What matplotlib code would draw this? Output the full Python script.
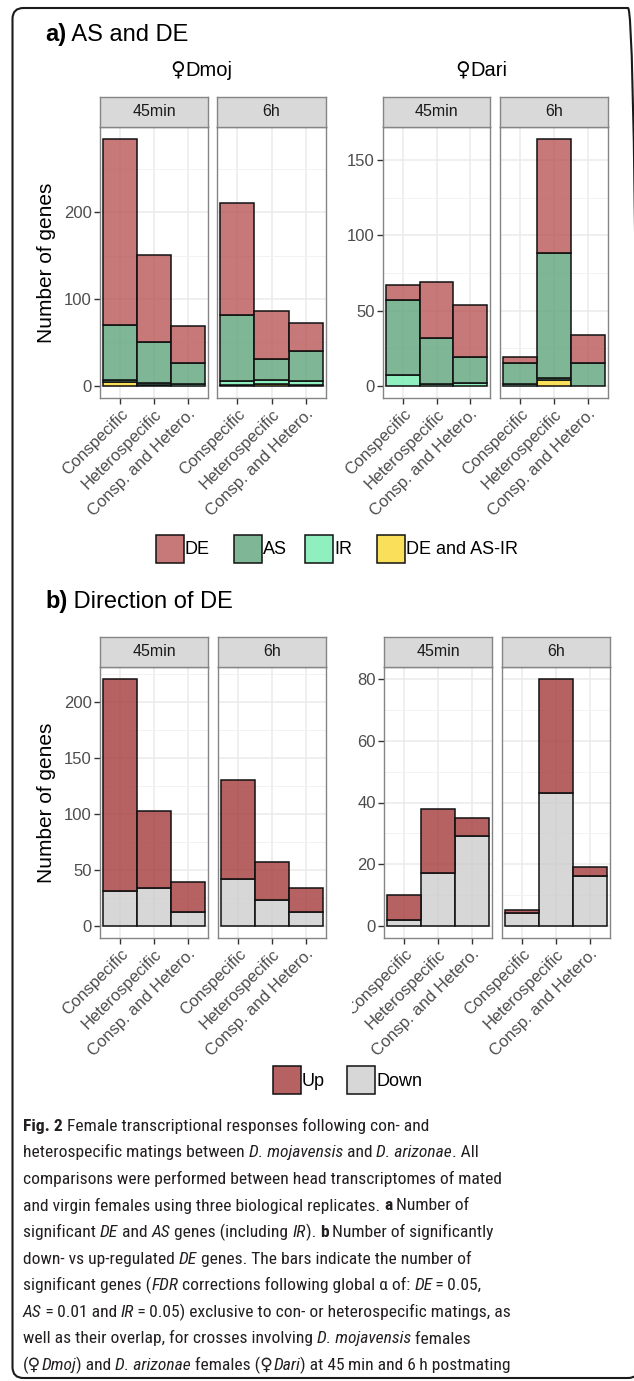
import numpy as np
import matplotlib
matplotlib.use("Agg")
import matplotlib.pyplot as plt
from matplotlib import font_manager
from matplotlib.colors import to_rgba
from matplotlib.patches import Rectangle, FancyBboxPatch
from matplotlib.transforms import Bbox, IdentityTransform

# mating types on the x axis
categories = ["Conspecific", "Heterospecific", "Consp. and Hetero."]

# a) AS and DE -- gene counts per class, stacked bottom -> top
# order inside each list: Conspecific, Heterospecific, Consp. and Hetero.
dmoj_45min_deasir = [4, 1, 0]
dmoj_45min_ir = [2, 2, 2]
dmoj_45min_as = [64, 47, 24]
dmoj_45min_de = [214, 101, 43]

dmoj_6h_deasir = [1, 2, 1]
dmoj_6h_ir = [4, 4, 4]
dmoj_6h_as = [77, 25, 35]
dmoj_6h_de = [129, 55, 32]

dari_45min_deasir = [0, 0, 0]
dari_45min_ir = [7, 1, 2]
dari_45min_as = [50, 31, 17]
dari_45min_de = [10, 37, 35]

dari_6h_deasir = [0, 4, 0]
dari_6h_ir = [1, 1, 0]
dari_6h_as = [14, 83, 15]
dari_6h_de = [4, 76, 19]

# b) Direction of DE
dmoj_45min_down = [31, 34, 12]
dmoj_45min_up = [189, 68, 27]
dmoj_6h_down = [42, 23, 12]
dmoj_6h_up = [88, 34, 22]
dari_45min_down = [2, 17, 29]
dari_45min_up = [8, 21, 6]
dari_6h_down = [4, 43, 16]
dari_6h_up = [1, 37, 3]

class_labels = ["DE", "AS", "IR", "DE and AS-IR"]
class_colors = ["#BA5656", "#5FA57C", "#74ECAE", "#F9D931"]
dir_labels = ["Up", "Down"]
dir_colors = ["#A43B3B", "#CDCDCD"]

W, H = 634, 1381
fig = plt.figure(figsize=(W / 100, H / 100), dpi=100)
fig.patch.set_facecolor("white")

SANS = ["Liberation Sans", "DejaVu Sans"]
plt.rcParams["font.family"] = SANS


def fx(x):
    return x / W


def fy(y):
    return 1 - y / H


def px_axes(x0, y0, x1, y1):
    return fig.add_axes([fx(x0), fy(y1), (x1 - x0) / W, (y1 - y0) / H])


def panel(x0, x1, y0, y1, strip, stacks, colors, ylim, major, minor, first):
    ax = px_axes(x0, y0, x1, y1)
    xs = np.arange(1, 4)
    bottom = np.zeros(3)
    for vals, col in zip(stacks, colors):
        vals = np.asarray(vals, dtype=float)
        keep = vals > 0
        ax.bar(xs[keep], vals[keep], width=1.0, bottom=bottom[keep],
               color=to_rgba(col, 0.8), edgecolor="#111111", linewidth=1.1, zorder=3)
        bottom += vals
    ax.set_xlim(0.4, 3.6)
    ax.set_ylim(*ylim)
    ax.set_xticks(xs)
    ax.set_xticklabels(categories, rotation=45, ha="right", va="top",
                       rotation_mode="anchor")
    ax.set_yticks(major)
    ax.set_yticks(minor, minor=True)
    ax.set_axisbelow(True)
    ax.grid(which="major", color="#EBEBEB", linewidth=1.1)
    ax.grid(which="minor", axis="y", color="#F2F2F2", linewidth=0.7)
    for s in ax.spines.values():
        s.set_color("#858585")
        s.set_linewidth(1.0)
    ax.tick_params(which="major", length=4, width=1, color="#333333",
                   labelsize=12, labelcolor="#4D4D4D", pad=2)
    ax.tick_params(which="minor", length=0)
    if not first:
        ax.tick_params(axis="y", left=False, labelleft=False)
    # facet strip
    sa = px_axes(x0, y0 - 30, x1, y0)
    sa.set_facecolor("#D9D9D9")
    sa.set_xticks([])
    sa.set_yticks([])
    for s in sa.spines.values():
        s.set_color("#858585")
        s.set_linewidth(1.0)
    sa.text(0.5, 0.5, strip, ha="center", va="center", fontsize=11.5,
            color="#1A1A1A", transform=sa.transAxes)
    return ax


# ---- a) AS and DE ----
ya0, ya1 = 127, 398
a_dmoj_lim = (-0.05 * 284, 284 * 1.05)
a_dari_lim = (-0.05 * 164, 164 * 1.05)
panel(100, 208, ya0, ya1, "45min",
      [dmoj_45min_deasir, dmoj_45min_ir, dmoj_45min_as, dmoj_45min_de],
      class_colors[::-1], a_dmoj_lim, [0, 100, 200], [50, 150, 250], True)
panel(217, 326, ya0, ya1, "6h",
      [dmoj_6h_deasir, dmoj_6h_ir, dmoj_6h_as, dmoj_6h_de],
      class_colors[::-1], a_dmoj_lim, [0, 100, 200], [50, 150, 250], False)
panel(383, 490, ya0, ya1, "45min",
      [dari_45min_deasir, dari_45min_ir, dari_45min_as, dari_45min_de],
      class_colors[::-1], a_dari_lim, [0, 50, 100, 150], [25, 75, 125], True)
panel(500, 608, ya0, ya1, "6h",
      [dari_6h_deasir, dari_6h_ir, dari_6h_as, dari_6h_de],
      class_colors[::-1], a_dari_lim, [0, 50, 100, 150], [25, 75, 125], False)

# ---- b) Direction of DE ----
yb0, yb1 = 667, 938
b_dmoj_lim = (-0.05 * 220, 220 * 1.05)
b_dari_lim = (-0.05 * 80, 80 * 1.05)
panel(100, 208, yb0, yb1, "45min", [dmoj_45min_down, dmoj_45min_up],
      dir_colors[::-1], b_dmoj_lim, [0, 50, 100, 150, 200], [25, 75, 125, 175, 225], True)
panel(218, 326, yb0, yb1, "6h", [dmoj_6h_down, dmoj_6h_up],
      dir_colors[::-1], b_dmoj_lim, [0, 50, 100, 150, 200], [25, 75, 125, 175, 225], False)
ax_b3 = panel(384, 492, yb0, yb1, "45min", [dari_45min_down, dari_45min_up],
              dir_colors[::-1], b_dari_lim, [0, 20, 40, 60, 80], [10, 30, 50, 70], True)
panel(502, 610, yb0, yb1, "6h", [dari_6h_down, dari_6h_up],
      dir_colors[::-1], b_dari_lim, [0, 20, 40, 60, 80], [10, 30, 50, 70], False)

# first label of the right-hand group gets cut by its neighbour
lab = ax_b3.get_xticklabels()[0]
lab.set_clip_on(True)
lab.set_clip_box(Bbox.from_extents(352, 0, W, H))

renderer = fig.canvas.get_renderer()


def run_width(s, **kw):
    # width including leading / trailing spaces
    t1 = fig.text(0, 0, "|" + s + "|", **kw)
    t2 = fig.text(0, 0, "||", **kw)
    w = t1.get_window_extent(renderer).width - t2.get_window_extent(renderer).width
    t1.remove()
    t2.remove()
    return w


def draw_runs(x, y, runs, size, family, color="black", stretch="normal"):
    for s, style in runs:
        fam = family
        if style == "sym":
            fam = ["DejaVu Sans"]
        kw = dict(fontsize=size, family=fam, color=color, fontstretch=stretch,
                  fontweight="bold" if style == "b" else "normal",
                  fontstyle="italic" if style == "i" else "normal")
        fig.text(fx(x), fy(y), s, ha="left", va="baseline", **kw)
        x += run_width(s, **kw)


def centered_runs(xc, y, runs, size, family, color="black"):
    total = 0
    for s, style in runs:
        fam = ["DejaVu Sans"] if style == "sym" else family
        total += run_width(s, fontsize=size, family=fam)
    draw_runs(xc - total / 2, y, runs, size, family, color)


# axis labels and group titles
for yc in (262.5, 802.5):
    fig.text(fx(47), fy(yc), "Number of genes", rotation=90, ha="center",
             va="center", fontsize=15, color="black")
centered_runs(201.5, 76, [("\u2640", "sym"), ("Dmoj", "n")], 14.5, SANS)
centered_runs(481.5, 76, [("\u2640", "sym"), ("Dari", "n")], 14.5, SANS)

draw_runs(45, 41, [("a)", "b"), (" AS and DE", "n")], 17, SANS)
draw_runs(45, 608, [("b)", "b"), (" Direction of DE", "n")], 17, SANS)


# legends
def legend_row(items, colors, x_boxes, yc, size=13):
    for lab, col, xb in zip(items, colors, x_boxes):
        fig.add_artist(Rectangle((fx(xb), fy(yc + 14)), 28 / W, 28 / H,
                                 transform=fig.transFigure,
                                 facecolor=to_rgba(col, 0.8), edgecolor="#111111",
                                 linewidth=1.1))
        fig.text(fx(xb + 29), fy(yc + 1), lab, ha="left", va="center", fontsize=size)


legend_row(class_labels, class_colors, [156, 234, 305, 377], 549)
legend_row(dir_labels, dir_colors, [273, 347], 1080)


# caption face: a narrow sans if one is installed, Lato otherwise
def pick_caption_font():
    names = {f.name for f in font_manager.fontManager.ttflist}
    for n in ("Liberation Sans Narrow", "Roboto Condensed", "Open Sans Condensed",
              "Noto Sans Condensed", "Arial Narrow"):
        if n in names:
            return n, "normal"
    for f in font_manager.fontManager.ttflist:
        if f.name in ("Noto Sans", "Open Sans", "Roboto") and \
                str(f.stretch) in ("condensed", "semi-condensed", "75", "87.5") and \
                f.style == "normal":
            return f.name, f.stretch
    return "Lato", "normal"


cap_name, cap_stretch = pick_caption_font()
CAP = [cap_name, "DejaVu Sans"]
caption = [
    [("Fig. 2", "b"), (" Female transcriptional responses following con- and", "n")],
    [("heterospecific matings between ", "n"), ("D. mojavensis", "i"), (" and ", "n"),
     ("D. arizonae", "i"), (". All", "n")],
    [("comparisons were performed between head transcriptomes of mated", "n")],
    [("and virgin females using three biological replicates. ", "n"), ("a", "b"),
     (" Number of", "n")],
    [("significant ", "n"), ("DE", "i"), (" and ", "n"), ("AS", "i"),
     (" genes (including ", "n"), ("IR", "i"), ("). ", "n"), ("b", "b"),
     (" Number of significantly", "n")],
    [("down- vs up-regulated ", "n"), ("DE", "i"), (" genes. The bars indicate the number of", "n")],
    [("significant genes (", "n"), ("FDR", "i"), (" corrections following global \u03b1 of: ", "n"),
     ("DE", "i"), ("\u2009=\u20090.05,", "n")],
    [("AS", "i"), ("\u2009=\u20090.01 and ", "n"), ("IR", "i"),
     ("\u2009=\u20090.05) exclusive to con- or heterospecific matings, as", "n")],
    [("well as their overlap, for crosses involving ", "n"), ("D. mojavensis", "i"),
     (" females", "n")],
    [("(\u2640", "n"), ("Dmoj", "i"), (") and ", "n"), ("D. arizonae", "i"),
     (" females (\u2640", "n"), ("Dari", "i"), (") at 45\u2009min and 6\u2009h postmating", "n")],
]
ref = run_width(caption[2][0][0], fontsize=14, family=CAP, fontstretch=cap_stretch)
cap_size = min(14 * 480 / ref, 15)
for k, line in enumerate(caption):
    draw_runs(23, 1130.7 + 26.6 * k, line, cap_size, CAP, color="#231F20",
              stretch=cap_stretch)

# rounded frame around the whole figure (pixel coordinates)
fig.add_artist(FancyBboxPatch((12.5, H - 1378), 639 - 12.5, 1378 - 8,
                              boxstyle="round,pad=0,rounding_size=11",
                              transform=IdentityTransform(), facecolor="none",
                              edgecolor="#1A1A1A", linewidth=1.5))

fig.savefig("out.png", dpi=100)
